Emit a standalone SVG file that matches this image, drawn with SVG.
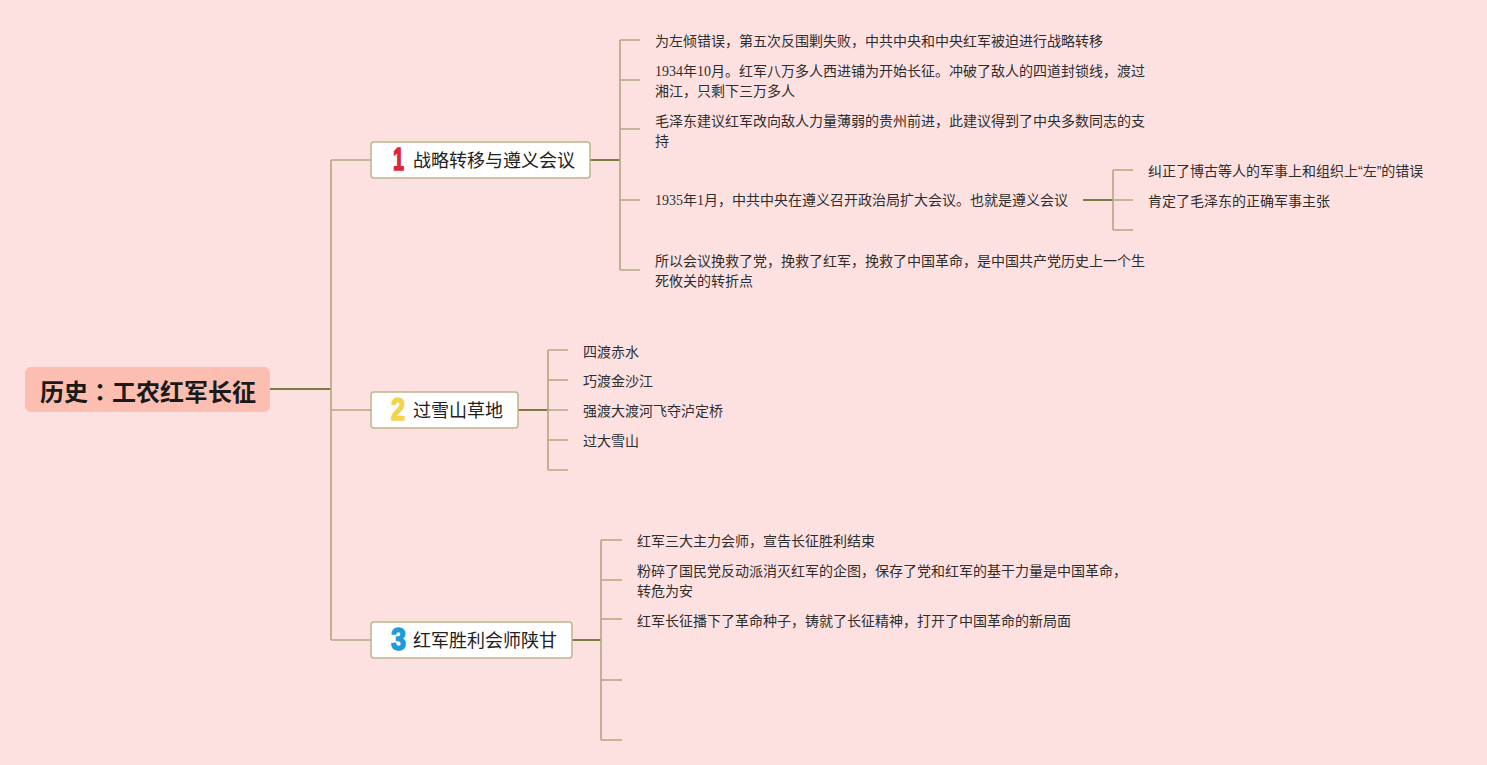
<svg xmlns="http://www.w3.org/2000/svg" width="1487" height="765" viewBox="0 0 1487 765">
<style>
.bg{fill:#fde1e1}
.main{stroke:#7e7a44;stroke-width:2;fill:none}
.sub{stroke:#b2a780;stroke-width:1.6;fill:none}
.root{fill:#fcbeb0}
.box{fill:#ffffff;stroke:#bdb58c;stroke-width:1.5}
.rt{font-family:"Noto Sans CJK SC","Noto Sans",sans-serif;font-size:24px;font-weight:bold;fill:#1a1a1a}
.bt{font-family:"Noto Sans CJK SC","Noto Sans",sans-serif;font-size:18px;fill:#222222}
.num{font-family:"Liberation Sans","Noto Sans",sans-serif;font-size:31px;font-weight:bold;stroke-width:1.6;stroke-linejoin:round}
.ct{font-family:"Noto Sans CJK SC","Noto Sans",sans-serif;font-size:14px;fill:#2e2e2e}
.d{font-family:"Liberation Serif",serif}
.q{font-family:"Liberation Sans",sans-serif}
.tc{font-family:"Noto Sans CJK TC","Noto Sans CJK SC",sans-serif}
</style>
<rect class="bg" x="0" y="0" width="1487" height="765"/>

<g id="connectors">
  <path class="main" d="M270 389 H331"/>
  <path class="sub" d="M331 160 V640 M331 160 H371 M331 410 H371 M331 640 H371"/>
  <path class="main" d="M590 160 H620"/>
  <path class="sub" d="M620 40 V270 M620 40 H640 M620 80 H640 M620 129 H640 M620 200 H640 M620 270 H640"/>
  <path class="main" d="M1083 200 H1113"/>
  <path class="sub" d="M1113 170 V230 M1113 170 H1133 M1113 200 H1133 M1113 230 H1133"/>
  <path class="main" d="M518 410 H548"/>
  <path class="sub" d="M548 350 V470 M548 350 H568 M548 380 H568 M548 410 H568 M548 440 H568 M548 470 H568"/>
  <path class="main" d="M572 640 H601"/>
  <path class="sub" d="M601 540 V740 M601 540 H622 M601 580 H622 M601 619 H622 M601 680 H622 M601 740 H622"/>
</g>

<g id="root">
  <rect class="root" x="25" y="367" width="245" height="45" rx="6"/>
  <text class="rt" x="148" y="401" text-anchor="middle">历史<tspan class="tc">：</tspan>工农红军长征</text>
</g>

<g id="branch1">
  <rect class="box" x="371" y="142" width="219" height="36" rx="3"/>
  <text class="num" x="393" y="170" fill="#e0243c" stroke="#e0243c" textLength="11" lengthAdjust="spacingAndGlyphs">1</text>
  <text class="bt" x="413" y="167">战略转移与遵义会议</text>
</g>
<g id="branch2">
  <rect class="box" x="371" y="392" width="147" height="36" rx="3"/>
  <text class="num" x="391" y="420" fill="#f4d34c" stroke="#f4d34c" textLength="14" lengthAdjust="spacingAndGlyphs">2</text>
  <text class="bt" x="413" y="417">过雪山草地</text>
</g>
<g id="branch3">
  <rect class="box" x="371" y="622" width="201" height="36" rx="3"/>
  <text class="num" x="391" y="650" fill="#1e9bd8" stroke="#1e9bd8" textLength="15" lengthAdjust="spacingAndGlyphs">3</text>
  <text class="bt" x="413" y="647">红军胜利会师陕甘</text>
</g>

<g id="b1-c1"><text class="ct" x="655" y="46">为左倾错误，第五次反围剿失败，中共中央和中央红军被迫进行战略转移</text></g>
<g id="b1-c2"><text class="ct" x="655" y="76"><tspan class="d">1934</tspan>年<tspan class="d">10</tspan>月。红军八万多人西进铺为开始长征。冲破了敌人的四道封锁线，渡过</text>
<text class="ct" x="655" y="96">湘江，只剩下三万多人</text></g>
<g id="b1-c3"><text class="ct" x="655" y="126">毛泽东建议红军改向敌人力量薄弱的贵州前进，此建议得到了中央多数同志的支</text>
<text class="ct" x="655" y="146">持</text></g>
<g id="b1-c4"><text class="ct" x="655" y="205"><tspan class="d">1935</tspan>年<tspan class="d">1</tspan>月，中共中央在遵义召开政治局扩大会议。也就是遵义会议</text></g>
<g id="b1-c5"><text class="ct" x="655" y="266">所以会议挽救了党，挽救了红军，挽救了中国革命，是中国共产党历史上一个生</text>
<text class="ct" x="655" y="286">死攸关的转折点</text></g>
<g id="b1-c4-1"><text class="ct" x="1148" y="176">纠正了博古等人的军事上和组织上<tspan class="q">“</tspan>左<tspan class="q">”</tspan>的错误</text></g>
<g id="b1-c4-2"><text class="ct" x="1148" y="206">肯定了毛泽东的正确军事主张</text></g>

<g id="b2-c1"><text class="ct" x="583" y="357">四渡赤水</text></g>
<g id="b2-c2"><text class="ct" x="583" y="386">巧渡金沙江</text></g>
<g id="b2-c3"><text class="ct" x="583" y="416">强渡大渡河飞夺泸定桥</text></g>
<g id="b2-c4"><text class="ct" x="583" y="446">过大雪山</text></g>

<g id="b3-c1"><text class="ct" x="637" y="546">红军三大主力会师，宣告长征胜利结束</text></g>
<g id="b3-c2"><text class="ct" x="637" y="576">粉碎了国民党反动派消灭红军的企图，保存了党和红军的基干力量是中国革命，</text>
<text class="ct" x="637" y="596">转危为安</text></g>
<g id="b3-c3"><text class="ct" x="637" y="626">红军长征播下了革命种子，铸就了长征精神，打开了中国革命的新局面</text></g>
</svg>
